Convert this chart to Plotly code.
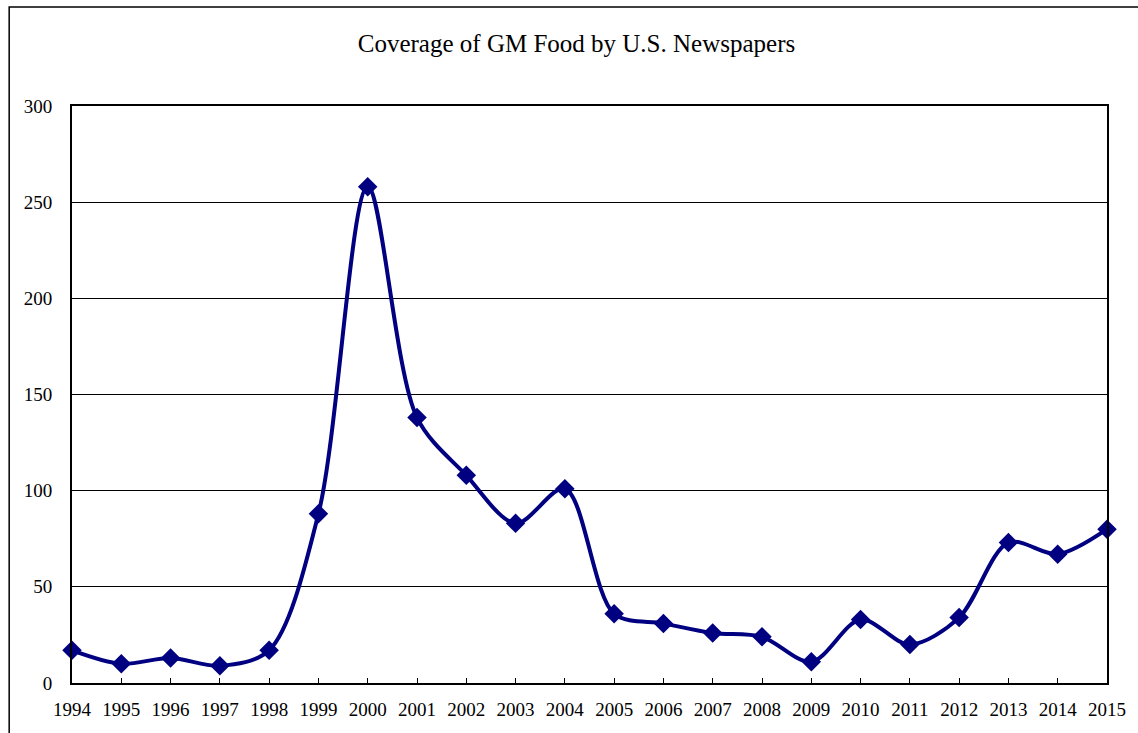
import plotly.graph_objects as go

years = list(range(1994, 2016))
articles = [17, 10, 13, 9, 17, 88, 258, 138, 108, 83, 101, 36, 31, 26, 24, 11, 33, 20, 34, 73, 67, 80]
y_ticks = [0, 50, 100, 150, 200, 250, 300]
title_text = "Coverage of GM Food by U.S. Newspapers"

navy = "#000080"
font_family = "Liberation Serif, Times New Roman, serif"

fig = go.Figure()
fig.add_trace(go.Scatter(
    x=years, y=articles,
    mode="lines+markers",
    line=dict(color=navy, width=4, shape="spline", smoothing=0.9),
    marker=dict(symbol="diamond", size=15, color=navy),
    cliponaxis=False,
    showlegend=False,
))

fig.update_layout(
    width=1138, height=733,
    margin=dict(l=72, r=28, t=106, b=50),
    paper_bgcolor="white", plot_bgcolor="white",
    font=dict(family=font_family, color="black", size=19),
    title=dict(text=title_text, x=(348 + 805) / 2 / 1138, xanchor="center", xref="container",
               y=1 - 43 / 733, yref="container", yanchor="middle",
               font=dict(size=25, family=font_family, color="black")),
    xaxis=dict(range=[1994, 2015], tickvals=years, ticktext=[str(y) for y in years],
               showgrid=False, zeroline=False, showline=True, linecolor="black", linewidth=2,
               mirror=True, ticks="inside", ticklen=5, tickcolor="black", tickwidth=1,
               ticklabelstandoff=8, tickfont=dict(size=19)),
    yaxis=dict(range=[0, 300], tickvals=y_ticks, showgrid=True, gridcolor="black", gridwidth=1,
               zeroline=False, showline=True, linecolor="black", linewidth=2, mirror=True,
               ticks="", ticklabelstandoff=14, tickfont=dict(size=19)),
)

# outer chart frame (extends beyond right and bottom edges)
fig.add_shape(type="rect", xref="paper", yref="paper",
              x0=(9 - 72) / 1038, x1=1.2, y0=-0.3, y1=(683 - 7) / 577,
              line=dict(color="black", width=1.5), fillcolor="rgba(0,0,0,0)", layer="below")

fig.write_html("out.html")
